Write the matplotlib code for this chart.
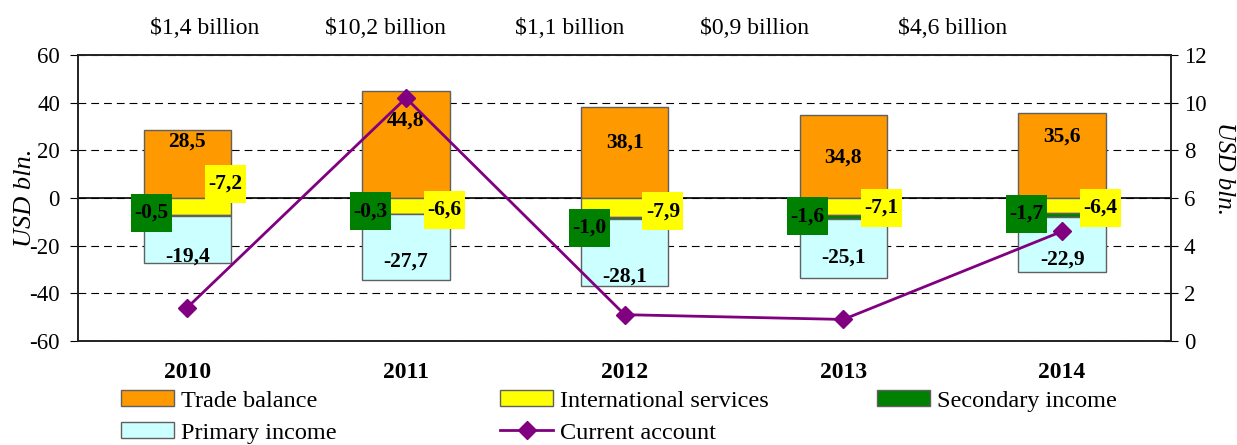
import matplotlib

matplotlib.use("Agg")
import matplotlib.pyplot as plt
from matplotlib.lines import Line2D
from matplotlib.patches import Patch, Rectangle
import numpy as np

years = ["2010", "2011", "2012", "2013", "2014"]
trade_balance = [28.5, 44.8, 38.1, 34.8, 35.6]
intl_services = [-7.2, -6.6, -7.9, -7.1, -6.4]
secondary_income = [-0.5, -0.3, -1.0, -1.6, -1.7]
primary_income = [-19.4, -27.7, -28.1, -25.1, -22.9]
current_account = [1.4, 10.2, 1.1, 0.9, 4.6]

# where the value labels sit (left axis units), as in the original layout
tb_label_y = [23.9, 32.7, 23.1, 16.8, 25.6]
is_label_y = [5.9, -5.0, -5.5, -4.2, -4.2]
si_label_y = [-6.3, -5.5, -12.6, -7.6, -6.7]
pi_label_y = [-24.8, -26.9, -33.2, -25.2, -26.0]

C_TRADE = "#FF9900"
C_SERV = "#FFFF00"
C_SEC = "#008000"
C_PRIM = "#CCFFFF"
C_CA = "#800080"
EDGE = "#606060"


def fmt(v):
    return f"{v:.1f}".replace(".", ",")


plt.rcParams["font.family"] = ["Liberation Serif", "DejaVu Serif"]
plt.rcParams["axes.unicode_minus"] = False

fig = plt.figure(figsize=(12.37, 4.45), dpi=100)
ax = fig.add_axes([0.063, 0.234, 0.884, 0.642])
ax2 = ax.twinx()

x = np.arange(len(years))
w = 0.4
neg1 = np.array(intl_services)
neg2 = neg1 + np.array(secondary_income)
ax.bar(x, trade_balance, w, color=C_TRADE, edgecolor=EDGE, linewidth=1, zorder=3)
ax.bar(x, intl_services, w, color=C_SERV, edgecolor=EDGE, linewidth=1, zorder=3)
ax.bar(x, secondary_income, w, bottom=neg1, color=C_SEC, edgecolor=EDGE, linewidth=1, zorder=3)
ax.bar(x, primary_income, w, bottom=neg2, color=C_PRIM, edgecolor=EDGE, linewidth=1, zorder=3)

ax.set_ylim(-60, 60)
ax.set_xlim(-0.5, 4.5)
ax.set_yticks(range(-60, 61, 20))
ax.set_xticks(x)
ax.set_xticklabels(years, fontweight="bold", fontsize=17)
ax.tick_params(axis="x", length=0, pad=15)
ax.tick_params(axis="y", labelsize=16.5, direction="out", length=6, pad=7)
ax.yaxis.grid(True, linestyle=(0, (7, 4.5)), color="black", linewidth=0.8, zorder=0)
ax.axhline(0, color="black", linewidth=1.2, zorder=2)

ax2.plot(x, current_account, color=C_CA, marker="D", markersize=9, linewidth=2, zorder=5)
ax2.set_ylim(0, 12)
ax2.set_yticks(range(0, 13, 2))
ax2.tick_params(axis="y", labelsize=16.5, direction="inout", length=10, pad=4)

for a in (ax, ax2):
    for s in a.spines.values():
        s.set_color("#222222")
        s.set_linewidth(1.2)

fig.text(25 / 1237, 1 - 198 / 445, "USD bln.", rotation=90, ha="center", va="center",
         fontsize=19, fontstyle="italic")
fig.text(1224 / 1237, 1 - 168 / 445, "USD bln.", rotation=-90, ha="center", va="center",
         fontsize=18, fontstyle="italic")

# label boxes are about 41 x 38 px
box_w = 41 / 218.8
box_h = 38 / 2.383
txt_kw = dict(ha="center", va="center", fontsize=15.5, fontweight="bold", zorder=7)
for i in range(len(years)):
    ax.text(x[i], tb_label_y[i], fmt(trade_balance[i]), **txt_kw)
    for cx, cy, val, col in [(x[i] + 0.175, is_label_y[i], intl_services[i], C_SERV),
                             (x[i] - 0.163, si_label_y[i], secondary_income[i], C_SEC)]:
        ax.add_patch(Rectangle((cx - box_w / 2, cy - box_h / 2), box_w, box_h,
                               fc=col, ec="none", zorder=6))
        ax.text(cx, cy, fmt(val), **txt_kw)
    ax.text(x[i], pi_label_y[i], fmt(primary_income[i]), **txt_kw)

top_x = [205, 385, 570, 755, 953]
for tx, v in zip(top_x, current_account):
    fig.text(tx / 1237, 1 - 28 / 445, f"${fmt(v)} billion", ha="center", va="center", fontsize=17)

columns = [
    (121, [Patch(fc=C_TRADE, ec=EDGE, label="Trade balance"),
           Patch(fc=C_PRIM, ec=EDGE, label="Primary income")]),
    (500, [Patch(fc=C_SERV, ec=EDGE, label="International services"),
           Line2D([], [], color=C_CA, marker="D", markersize=9, linewidth=2,
                  label="Current account")]),
    (877, [Patch(fc=C_SEC, ec=EDGE, label="Secondary income")]),
]
for px, hs in columns:
    fig.legend(handles=hs, loc="upper left", bbox_to_anchor=(px / 1237, 1 - 390 / 445),
               frameon=False, fontsize=17.5, handlelength=2.2, handleheight=0.65,
               labelspacing=0.42, handletextpad=0.25, borderpad=0, borderaxespad=0)

fig.savefig("out.png", dpi=100)
